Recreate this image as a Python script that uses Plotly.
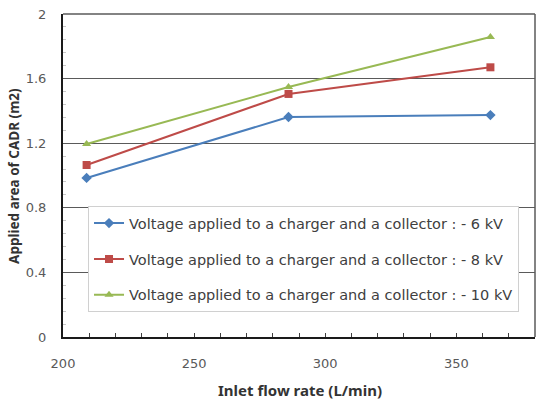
import plotly.graph_objects as go

flow_rate = [209, 286, 363]
cadr_6kv = [0.985, 1.362, 1.374]
cadr_8kv = [1.065, 1.505, 1.670]
cadr_10kv = [1.195, 1.548, 1.858]
series_names = [
    "Voltage applied to a charger and a collector : - 6 kV",
    "Voltage applied to a charger and a collector : - 8 kV",
    "Voltage applied to a charger and a collector : - 10 kV",
]
x_title = "Inlet flow rate (L/min)"
y_title = "Applied area of CADR (m2)"
colors = ["#4a7ebb", "#be4b48", "#98b954"]
symbols = ["diamond", "square", "triangle-up"]
sizes = [8, 8, 8]

fig = go.Figure()
for i, ys in enumerate([cadr_6kv, cadr_8kv, cadr_10kv]):
    fig.add_trace(go.Scatter(
        x=flow_rate, y=ys, mode="lines+markers", name=series_names[i],
        legendgroup=str(i),
        line=dict(color=colors[i], width=2),
        marker=dict(symbol=symbols[i], size=sizes[i], color=colors[i]),
    ))

font_family = "DejaVu Sans, Noto Sans, sans-serif"
title_family = "Noto Sans, Open Sans, sans-serif"
fig.update_layout(
    width=537, height=401,
    margin=dict(l=63, r=2, t=14, b=64),
    plot_bgcolor="white", paper_bgcolor="white",
    font=dict(family=font_family, size=13, color="#404040"),
    showlegend=True,
    legend=dict(
        x=0.053, y=0.405, xanchor="left", yanchor="top",
        bgcolor="white", bordercolor="#d0d0d0", borderwidth=1,
        font=dict(size=14.5, color="#404040"),
        tracegroupgap=14, itemwidth=30,
    ),
    xaxis=dict(
        range=[200, 380], dtick=50, tick0=200,
        ticks="inside", ticklen=4, tickcolor="#404040",
        minor=dict(dtick=10, ticks="inside", ticklen=4, tickcolor="#404040"),
        ticklabelstandoff=13,
        showgrid=False, zeroline=False,
        showline=True, linecolor="#1a1a1a", linewidth=2, mirror=False,
        tickfont=dict(size=13, color="#595959"),
    ),
    yaxis=dict(
        range=[0, 2], dtick=0.4, tick0=0,
        ticks="",
        minor=dict(dtick=0.08, ticks="inside", ticklen=3, tickcolor="#c8c8c8"),
        ticklabelstandoff=12,
        showgrid=True, gridcolor="#5a5a5a", gridwidth=1,
        zeroline=False,
        showline=True, linecolor="#1a1a1a", linewidth=2, mirror=False,
        tickfont=dict(size=13, color="#595959"),
        tickformat="~g",
    ),
)
fig.add_annotation(text="<b>" + x_title + "</b>", xref="paper", yref="paper",
                   x=0.502, y=-0.164, xanchor="center", yanchor="middle", showarrow=False,
                   font=dict(family=title_family, size=15, color="#333333"))
fig.add_annotation(text="<b>" + y_title + "</b>", xref="paper", yref="paper",
                   x=-0.105, y=0.50, xanchor="center", yanchor="middle", showarrow=False,
                   textangle=-90,
                   font=dict(family=title_family, size=13.5, color="#333333"))
# frame on top/right of plot area
fig.add_shape(type="line", xref="paper", yref="paper", x0=0, x1=1, y0=1, y1=1,
              line=dict(color="#5a5a5a", width=1.5))
fig.add_shape(type="line", xref="paper", yref="paper", x0=1, x1=1, y0=0, y1=1,
              line=dict(color="#5a5a5a", width=1.5))

fig.write_html("out.html")
